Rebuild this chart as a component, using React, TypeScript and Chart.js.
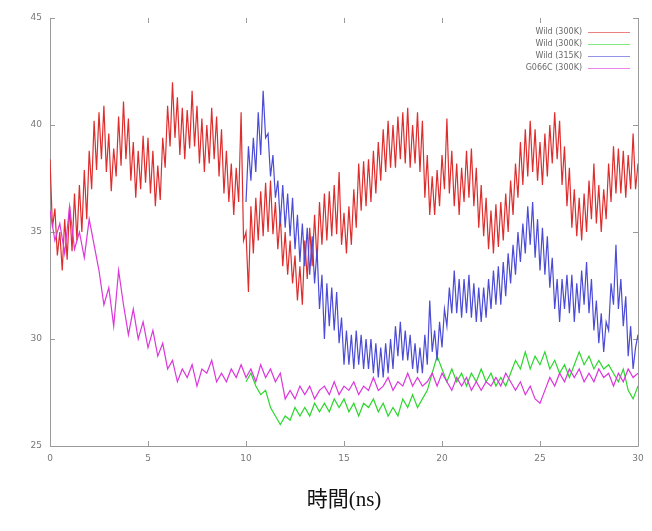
import React, { useEffect, useRef } from "react";
import { Chart, registerables } from "chart.js";

Chart.register(...registerables);

const seriesNames = ["Wild (300K)", "Wild (300K)", "Wild (315K)", "G066C (300K)"];
const seriesColors = ["rgb(222,45,45)", "rgb(45,215,45)", "rgb(75,75,215)", "rgb(220,55,220)"];
const xTicks = [0, 5, 10, 15, 20, 25, 30];
const yTicks = [25, 30, 35, 40, 45];
const xTitle = "時間(ns)";

// sampling: start time (ns) and step (ns) of each series
const redStart = 0;
const redStep = 0.125;
const redValues = [
  38.4, 35.2, 36.1, 33.9, 35.0, 33.2, 35.6, 33.7, 36.2, 34.1, 36.8, 34.6, 37.2, 35.0, 37.9, 35.6,
  38.8, 37.0, 40.2, 37.9, 40.6, 38.4, 40.9, 37.8, 39.6, 36.9, 38.9, 37.6, 40.4, 38.1, 41.1, 38.4,
  40.3, 37.4, 39.2, 36.6, 38.8, 37.0, 39.5, 37.3, 39.4, 36.8, 38.8, 36.2, 38.1, 36.5, 39.4, 38.0,
  40.9, 39.0, 42.0, 39.4, 41.3, 38.6, 40.8, 38.4, 40.7, 38.9, 41.6, 39.0, 40.9, 38.2, 40.3, 37.8,
  40.0, 38.2, 40.8, 38.4, 40.4, 37.6, 39.8, 36.8, 38.8, 36.4, 38.2, 35.8, 38.0, 36.4, 40.6, 34.6,
  35.0, 32.2, 36.2, 34.0, 36.6, 34.6, 36.9, 34.8, 37.3, 35.0, 37.4, 34.9, 36.4, 34.2, 35.8, 33.4,
  35.0, 33.0, 34.6, 32.6, 33.9, 31.8, 33.4, 31.6, 34.6, 32.8, 35.2, 33.4, 35.8, 33.6, 36.4, 34.4,
  36.8, 34.6, 36.9, 34.8, 37.2, 34.9, 37.8, 34.4, 35.9, 34.0, 36.2, 34.4, 37.0, 35.2, 38.2, 36.0,
  38.3, 36.2, 38.4, 36.4, 38.8, 36.8, 39.2, 37.4, 39.8, 37.8, 40.2, 38.0, 40.0, 38.0, 40.4, 38.4,
  40.6, 38.2, 40.8, 38.0, 40.0, 38.2, 40.6, 37.8, 40.2, 36.6, 38.6, 35.8, 37.6, 35.8, 37.9, 36.2,
  38.6, 37.0, 40.3, 36.8, 38.8, 36.2, 38.2, 35.8, 38.0, 36.4, 38.8, 36.6, 38.9, 36.2, 38.0, 35.2,
  37.2, 34.8, 36.6, 34.2, 36.0, 34.0, 36.3, 34.3, 36.4, 34.6, 36.8, 35.0, 37.4, 35.8, 38.2, 36.6,
  39.2, 37.2, 39.8, 37.6, 40.2, 37.8, 39.8, 37.4, 39.2, 37.2, 39.6, 37.6, 40.0, 38.2, 40.6, 38.4,
  40.2, 37.2, 39.0, 36.2, 38.0, 35.2, 37.0, 34.8, 36.6, 34.6, 36.8, 35.0, 37.4, 35.6, 38.2, 35.4,
  37.2, 35.0, 37.0, 35.6, 38.2, 36.4, 39.0, 36.8, 38.9, 36.8, 38.8, 36.6, 38.6, 37.0, 39.6, 37.0,
  38.2,
];

const greenStart = 10;
const greenStep = 0.25;
const greenValues = [
  28.0, 28.4, 27.8, 27.4, 27.6, 26.8, 26.4, 26.0, 26.4, 26.2, 26.8, 26.4, 26.8, 26.4, 27.0, 26.6,
  27.0, 26.6, 27.2, 26.8, 27.2, 26.6, 27.0, 26.4, 27.0, 26.8, 27.2, 26.6, 27.0, 26.4, 26.8, 26.4,
  27.2, 26.8, 27.4, 26.8, 27.2, 27.6, 28.4, 29.2, 28.6, 28.0, 28.6, 28.0, 28.4, 27.8, 28.4, 28.0,
  28.6, 28.0, 28.4, 27.8, 28.2, 27.8, 28.4, 29.0, 28.6, 29.4, 28.6, 29.2, 28.8, 29.4, 28.6, 29.0,
  28.4, 28.8, 28.2, 28.8, 29.4, 28.8, 29.2, 28.6, 29.0, 28.6, 28.8, 28.4, 28.0, 28.6, 27.6, 27.2,
  27.8,
];

const blueStart = 10;
const blueStep = 0.125;
const blueValues = [
  36.4, 39.0, 37.4, 39.4, 37.8, 40.6, 38.6, 41.6, 39.4, 39.6, 37.6, 38.6, 36.6, 37.4, 35.4, 37.2,
  35.2, 36.8, 34.8, 36.6, 34.2, 35.8, 33.6, 35.4, 33.4, 35.2, 33.0, 34.8, 32.6, 34.2, 31.4, 33.0,
  30.0, 32.6, 30.6, 32.4, 30.4, 32.2, 29.8, 31.0, 28.8, 30.4, 28.8, 30.2, 28.6, 30.4, 28.8, 30.2,
  28.6, 30.0, 28.6, 30.0, 28.4, 29.8, 28.2, 29.6, 28.2, 29.8, 28.4, 30.0, 28.6, 30.6, 29.2, 30.8,
  29.0, 30.4, 29.0, 30.2, 28.6, 29.8, 28.4, 29.6, 28.4, 30.2, 28.8, 31.8, 29.4, 30.4, 29.0, 30.8,
  29.6, 31.4, 30.6, 32.4, 31.2, 33.2, 31.2, 32.8, 31.0, 32.8, 31.2, 33.0, 31.0, 32.6, 30.8, 32.4,
  30.8, 32.4, 31.0, 32.8, 31.4, 33.2, 31.6, 33.4, 31.6, 33.6, 32.0, 34.0, 32.6, 34.4, 33.0, 35.0,
  33.6, 35.4, 34.0, 36.2, 34.4, 36.4, 33.8, 35.6, 33.2, 35.2, 33.0, 34.8, 32.4, 33.8, 31.4, 32.8,
  30.8, 32.8, 31.4, 33.0, 31.2, 33.0, 30.8, 32.6, 31.2, 33.2, 31.6, 33.6, 31.2, 32.8, 30.4, 31.8,
  29.8, 31.2, 29.4, 30.8, 30.4, 32.6, 31.6, 34.4, 31.4, 32.8, 30.6, 32.0, 29.2, 30.6, 28.6, 29.6,
  30.2,
];

const magentaStart = 0;
const magentaStep = 0.25;
const magentaValues = [
  36.0, 34.6, 35.4, 34.0, 36.2, 34.2, 35.0, 33.8, 35.6, 34.4, 33.2, 31.6, 32.4, 30.6, 33.2, 31.6,
  30.2, 31.4, 30.0, 30.8, 29.6, 30.4, 29.2, 29.8, 28.6, 29.0, 28.0, 28.6, 28.2, 28.8, 27.8, 28.6,
  28.4, 29.0, 28.0, 28.4, 28.0, 28.6, 28.2, 28.8, 28.2, 28.6, 28.0, 28.8, 28.2, 28.6, 28.0, 28.4,
  27.2, 27.6, 27.2, 27.8, 27.4, 27.8, 27.2, 27.6, 27.8, 27.4, 28.0, 27.4, 27.8, 27.6, 28.0, 27.4,
  27.8, 27.6, 28.2, 27.6, 27.8, 28.2, 27.6, 28.0, 27.8, 28.4, 27.8, 28.2, 27.8, 28.0, 28.4, 27.8,
  28.4, 28.0, 27.6, 28.2, 27.8, 28.2, 27.6, 28.0, 27.6, 28.0, 27.8, 28.2, 27.8, 28.4, 28.0, 27.6,
  28.0, 27.4, 27.8, 27.2, 27.0, 27.6, 28.2, 27.8, 28.4, 28.0, 28.6, 28.2, 28.6, 28.0, 28.4, 28.0,
  28.6, 28.2, 28.4, 27.8, 28.4, 28.0, 28.6, 28.2, 28.4,
];

function toPoints(start: number, step: number, values: number[]) {
  return values.map((v, i) => ({ x: start + i * step, y: v }));
}

const framePlugin = {
  id: "gnuFrame",
  beforeDatasetsDraw(chart: any) {
    const { ctx, chartArea } = chart;
    const xs = chart.scales.x;
    const ys = chart.scales.y;
    ctx.save();
    ctx.strokeStyle = "#9a9a9a";
    ctx.lineWidth = 1;
    ctx.beginPath();
    ctx.moveTo(chartArea.left + 0.5, chartArea.top);
    ctx.lineTo(chartArea.left + 0.5, chartArea.bottom + 0.5);
    ctx.lineTo(chartArea.right + 0.5, chartArea.bottom + 0.5);
    ctx.lineTo(chartArea.right + 0.5, chartArea.top);
    ctx.stroke();
    ctx.beginPath();
    const tl = 5;
    xTicks.forEach((t) => {
      const px = Math.round(xs.getPixelForValue(t)) + 0.5;
      ctx.moveTo(px, chartArea.bottom);
      ctx.lineTo(px, chartArea.bottom - tl);
      ctx.moveTo(px, chartArea.top);
      ctx.lineTo(px, chartArea.top + tl);
    });
    yTicks.forEach((t) => {
      const py = Math.round(ys.getPixelForValue(t)) + 0.5;
      ctx.moveTo(chartArea.left, py);
      ctx.lineTo(chartArea.left + tl, py);
      ctx.moveTo(chartArea.right, py);
      ctx.lineTo(chartArea.right - tl, py);
    });
    ctx.stroke();
    ctx.restore();
  },
  afterDraw(chart: any) {
    const { ctx, chartArea } = chart;
    ctx.save();
    ctx.font = "8px 'DejaVu Sans', sans-serif";
    ctx.fillStyle = "#6a6a6a";
    ctx.textAlign = "right";
    ctx.textBaseline = "middle";
    const textRight = chartArea.right - 56;
    seriesNames.forEach((name, i) => {
      const y = chartArea.top + 14 + i * 12;
      ctx.fillText(name, textRight, y);
      ctx.strokeStyle = seriesColors[i];
      ctx.globalAlpha = 0.6;
      ctx.lineWidth = 1;
      ctx.beginPath();
      ctx.moveTo(textRight + 6, y + 0.5);
      ctx.lineTo(chartArea.right - 8, y + 0.5);
      ctx.stroke();
      ctx.globalAlpha = 1;
    });
    ctx.restore();
  },
};

export default function App() {
  const canvasRef = useRef<HTMLCanvasElement | null>(null);

  useEffect(() => {
    document.body.style.margin = "0";
    const canvas = canvasRef.current;
    if (!canvas) return;
    const allValues = [redValues, greenValues, blueValues, magentaValues];
    const starts = [redStart, greenStart, blueStart, magentaStart];
    const steps = [redStep, greenStep, blueStep, magentaStep];
    const orders = [4, 3, 2, 1];
    const chart = new Chart(canvas, {
      type: "line",
      data: {
        datasets: allValues.map((vals, i) => ({
          label: seriesNames[i],
          data: toPoints(starts[i], steps[i], vals),
          borderColor: seriesColors[i],
          backgroundColor: seriesColors[i],
          borderWidth: 1.2,
          pointRadius: 0,
          tension: 0,
          fill: false,
          order: orders[i],
        })),
      },
      options: {
        animation: false,
        responsive: true,
        maintainAspectRatio: false,
        layout: { padding: { top: 18, right: 14, left: 0, bottom: 0 } },
        plugins: { legend: { display: false }, tooltip: { enabled: false } },
        scales: {
          x: {
            type: "linear",
            min: 0,
            max: 30,
            grid: { display: false, drawTicks: false },
            border: { display: false },
            ticks: {
              stepSize: 5,
              padding: 7,
              color: "#777",
              font: { size: 9, family: "'DejaVu Sans', sans-serif" },
              maxRotation: 0,
            },
            title: {
              display: true,
              text: xTitle,
              color: "#111",
              font: { size: 21, family: "'Liberation Serif', 'Noto Sans CJK JP', serif" },
              padding: { top: 0, bottom: 18 },
            },
            afterFit: (scale: any) => {
              scale.height = 85;
            },
          },
          y: {
            type: "linear",
            min: 25,
            max: 45,
            grid: { display: false, drawTicks: false },
            border: { display: false },
            ticks: {
              stepSize: 5,
              padding: 8,
              color: "#777",
              font: { size: 9, family: "'DejaVu Sans', sans-serif" },
            },
            afterFit: (scale: any) => {
              scale.width = 50;
            },
          },
        },
      },
      plugins: [framePlugin],
    });
    return () => chart.destroy();
  }, []);

  return (
    <div style={{ position: "relative", width: 652, height: 531 }}>
      <canvas ref={canvasRef} />
    </div>
  );
}
